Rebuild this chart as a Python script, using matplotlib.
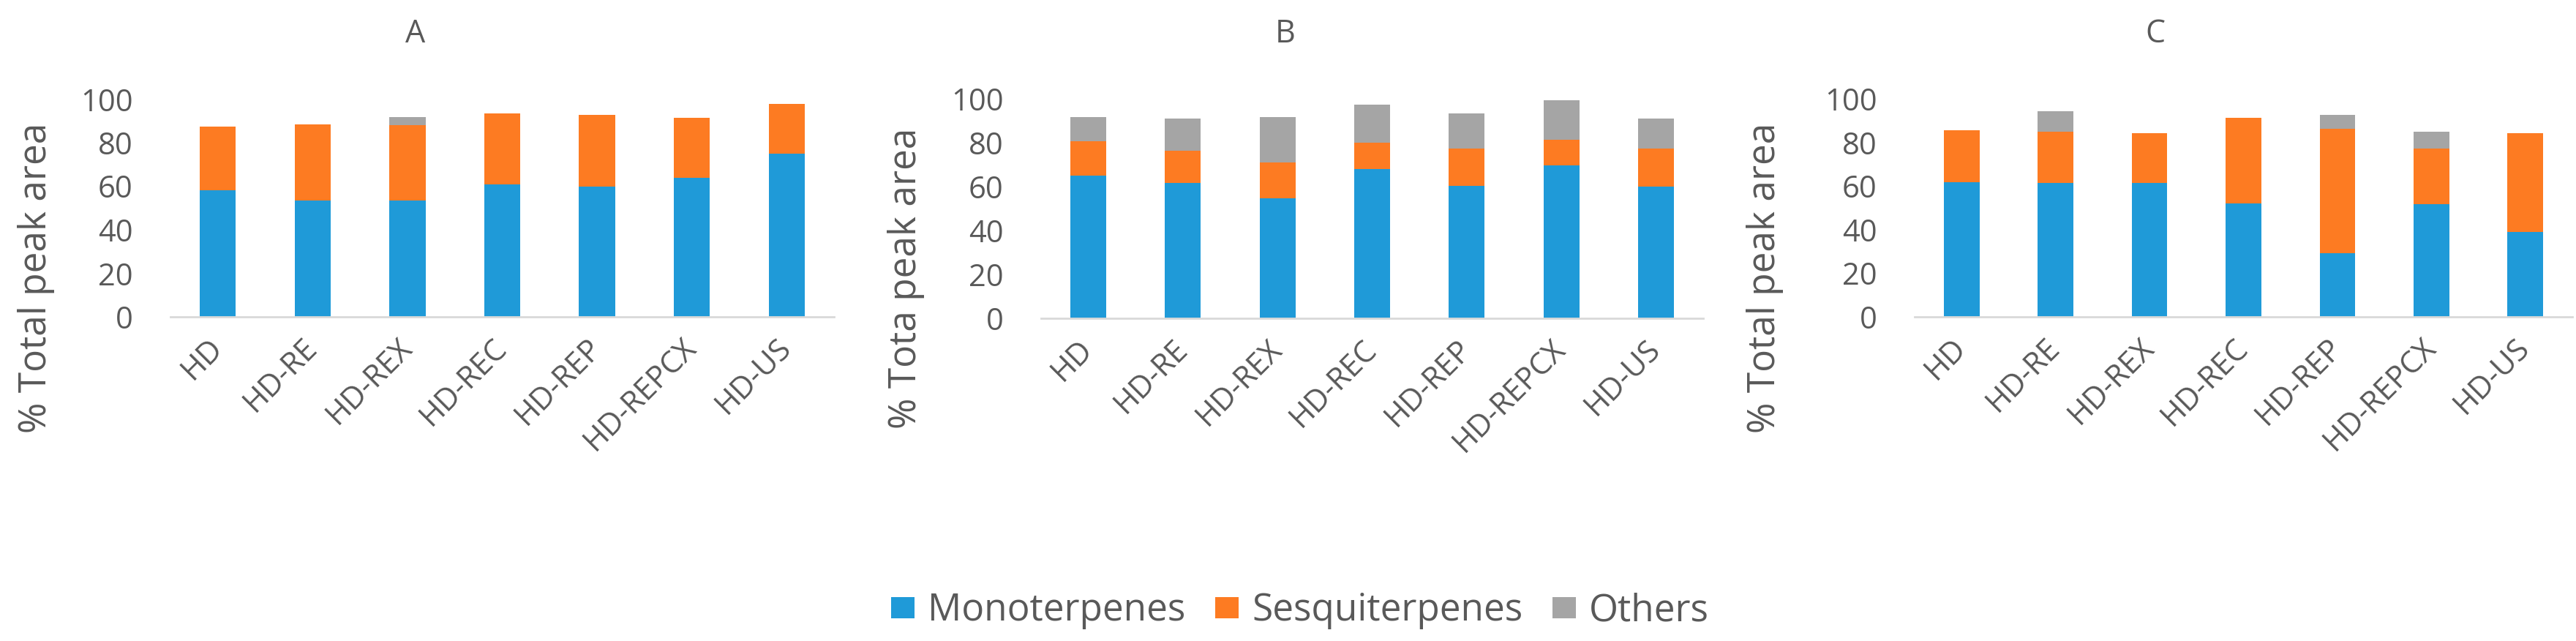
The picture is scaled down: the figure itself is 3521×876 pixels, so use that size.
import matplotlib
matplotlib.use("Agg")
import numpy as np
from matplotlib import pyplot as plt
from matplotlib.patches import Patch

methods = ["HD", "HD-RE", "HD-REX", "HD-REC", "HD-REP", "HD-REPCX", "HD-US"]
series_names = ["Monoterpenes", "Sesquiterpenes", "Others"]

# panel A
mono_a = [58.2, 53.4, 53.4, 60.9, 59.8, 63.9, 74.9]
sesq_a = [29.3, 35.0, 34.6, 32.6, 33.0, 27.5, 22.8]
other_a = [0, 0, 3.7, 0, 0, 0, 0]

# panel B
mono_b = [65.0, 61.7, 54.8, 68.0, 60.3, 69.7, 60.0]
sesq_b = [15.8, 14.6, 16.3, 12.0, 16.9, 11.7, 17.2]
other_b = [10.9, 14.8, 20.6, 17.4, 16.1, 17.8, 13.9]

# panel C
mono_c = [61.6, 61.4, 61.4, 52.1, 29.2, 51.6, 39.0]
sesq_c = [24.1, 23.5, 22.7, 39.3, 57.0, 25.5, 45.1]
other_c = [0, 9.3, 0, 0, 6.3, 7.8, 0]

titles = ["A", "B", "C"]
ylabels = ["% Total peak area", "% Tota peak area", "% Total peak area"]

colors = ["#1f9ad8", "#fd7b22", "#a5a5a5"]
text_col = "#595959"

plt.rcParams["font.family"] = ["Open Sans", "DejaVu Sans"]

W, H = 3521, 876
fig = plt.figure(figsize=(W / 100, H / 100), dpi=100)

# axes boxes in pixels: left, right, top(100), bottom(0)
boxes = [(233, 1140, 135.5, 433), (1423, 2328, 135, 435), (2617, 3516, 135, 433)]
title_x = [568, 1757, 2946]
ylabel_x = [50, 1238, 2413]

panels = [(mono_a, sesq_a, other_a), (mono_b, sesq_b, other_b), (mono_c, sesq_c, other_c)]

x = np.arange(len(methods))
for i, (mono, sesq, other) in enumerate(panels):
    l, r, t, b = boxes[i]
    ax = fig.add_axes([l / W, 1 - b / H, (r - l) / W, (b - t) / H])
    mono = np.array(mono)
    sesq = np.array(sesq)
    other = np.array(other)
    ax.bar(x, mono, width=0.38, color=colors[0])
    ax.bar(x, sesq, width=0.38, bottom=mono, color=colors[1])
    ax.bar(x, other, width=0.38, bottom=mono + sesq, color=colors[2])
    ax.set_xlim(-0.5, len(methods) - 0.5)
    ax.set_ylim(0, 100)
    ax.set_yticks(range(0, 101, 20))
    ax.set_xticks(x)
    ax.set_xticklabels(methods, rotation=45, ha="right", va="center",
                       rotation_mode="anchor")
    for s in ["top", "right", "left"]:
        ax.spines[s].set_visible(False)
    ax.spines["bottom"].set_color("#d9d9d9")
    ax.spines["bottom"].set_linewidth(2)
    ax.tick_params(axis="y", length=0, pad=37, labelsize=30, labelcolor=text_col)
    ax.tick_params(axis="x", length=0, pad=26, labelsize=30, labelcolor=text_col)
    ax.set_ylabel(ylabels[i], fontsize=37, color=text_col)
    ax.yaxis.set_label_coords((ylabel_x[i] - l) / (r - l), (b - 380) / (b - t))
    ax.yaxis.label.set_va("center")
    fig.text(title_x[i] / W, 1 - 47 / H, titles[i], fontsize=31, color=text_col,
             ha="center", va="center")

handles = [Patch(facecolor=c, edgecolor="none") for c in colors]
fig.legend(handles, series_names, loc="center", bbox_to_anchor=(1777 / W, 1 - 835 / H),
           ncol=3, frameon=False, fontsize=37, labelcolor=text_col,
           handlelength=0.62, handleheight=0.5, handletextpad=0.35, columnspacing=0.8)

fig.savefig("out.png", dpi=100)
